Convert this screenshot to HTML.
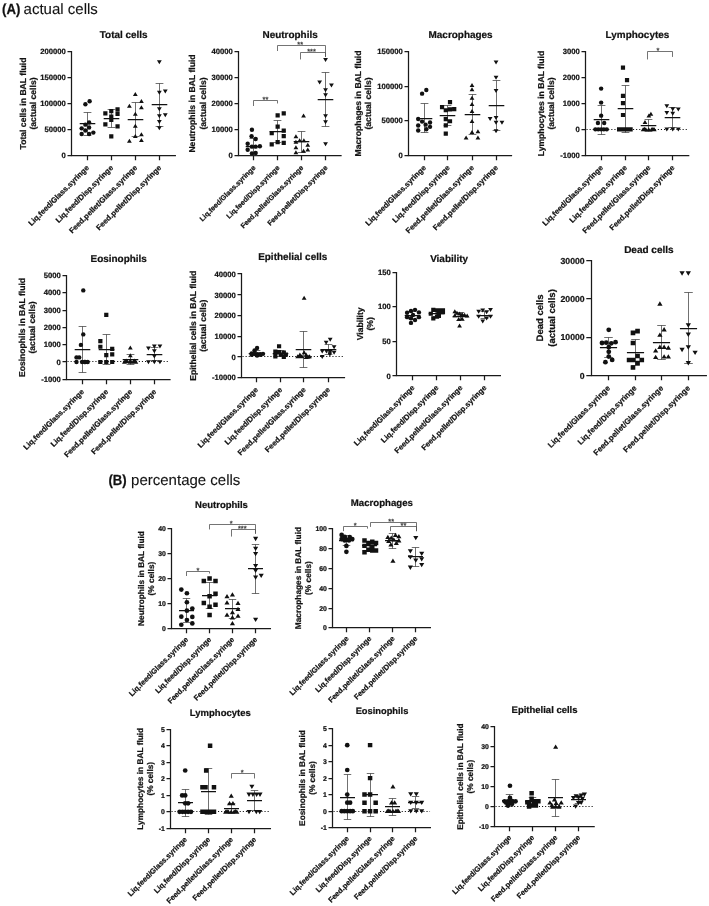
<!DOCTYPE html>
<html><head><meta charset="utf-8"><title>BAL fluid cells</title>
<style>
html,body{margin:0;padding:0;background:#fff}
svg{display:block;font-family:"Liberation Sans",sans-serif;fill:#111;text-rendering:geometricPrecision}
.ax{fill:none;stroke:#1a1a1a;stroke-width:1.25}
.dot{fill:none;stroke:#111;stroke-width:1.1;stroke-dasharray:1.1 2}
.eb{fill:none;stroke:#333;stroke-width:0.7}
.mn{fill:none;stroke:#111;stroke-width:1.25}
.br{fill:none;stroke:#505050;stroke-width:0.8}
.tk{font-weight:bold}
text{stroke:#111;stroke-width:0.22px;paint-order:stroke}
.tt{font-weight:bold}
.yl{font-weight:bold}
.xl{font-weight:bold}
.st{font-size:7.4px;fill:#333;stroke:#333;stroke-width:0.22px}
.hd{font-size:15px;stroke-width:0.1px}
.hd.b{font-weight:bold;font-size:14.6px;stroke-width:0.25px}
</style></head><body>
<svg width="709" height="906" viewBox="0 0 709 906">
<rect width="709" height="906" fill="#fff"/>
<text class="hd b" x="2" y="13.5" textLength="18.3" lengthAdjust="spacingAndGlyphs">(A)</text><text class="hd" x="23.6" y="13.5">actual cells</text>
<text class="hd b" x="108.4" y="485.3" textLength="18.2" lengthAdjust="spacingAndGlyphs">(B)</text><text class="hd" x="131.1" y="485.3">percentage cells</text>
<g>
<path class="ax" d="M71.5 50.9V155.5H175.94"/>
<path class="ax" d="M67.5 51.5H71.5M67.5 77.5H71.5M67.5 103.5H71.5M67.5 129.5H71.5M67.5 155.5H71.5M87.5 155.5V160.2M111.5 155.5V160.2M135.5 155.5V160.2M159.5 155.5V160.2"/>
<text class="tk" x="65.9" y="54.24" text-anchor="end" style="font-size:7.7px">200000</text>
<text class="tk" x="65.9" y="80.14" text-anchor="end" style="font-size:7.7px">150000</text>
<text class="tk" x="65.9" y="106.03" text-anchor="end" style="font-size:7.7px">100000</text>
<text class="tk" x="65.9" y="131.93" text-anchor="end" style="font-size:7.7px">50000</text>
<text class="tk" x="65.9" y="157.83" text-anchor="end" style="font-size:7.7px">0</text>
<text class="tt" x="123.72" y="37.81" text-anchor="middle" style="font-size:9.95px">Total cells</text>
<text class="yl" transform="translate(25.7 103.5) rotate(-90)" text-anchor="middle" style="font-size:8.6px"><tspan x="0" y="0">Total cells in BAL fluid</tspan><tspan x="0" y="10.4">(actual cells)</tspan></text>
<text class="xl" transform="translate(89.48 168.3) rotate(-45)" text-anchor="end" style="font-size:7.7px">Liq.feed/Glass.syringe</text>
<text class="xl" transform="translate(113.68 168.3) rotate(-45)" text-anchor="end" style="font-size:7.7px">Liq.feed/Disp.syringe</text>
<text class="xl" transform="translate(137.72 168.3) rotate(-45)" text-anchor="end" style="font-size:7.7px">Feed.pellet/Glass.syringe</text>
<text class="xl" transform="translate(161.75 168.3) rotate(-45)" text-anchor="end" style="font-size:7.7px">Feed.pellet/Disp.syringe</text>
<path class="eb" d="M87.5 112.5V135.5M83.6 112.5h7.8M83.6 135.5h7.8M111.5 109.5V127.5M107.6 109.5h7.8M107.6 127.5h7.8M135.5 102.5V136.5M131.6 102.5h7.8M131.6 136.5h7.8M159.5 83.5V126.5M155.6 83.5h7.8M155.6 126.5h7.8"/>
<path class="mn" d="M79.7 123.5h15.6M103.7 118.5h15.6M127.7 119.5h15.6M151.7 104.5h15.6"/>
<circle cx="85.39" cy="104.32" r="2.2"/>
<circle cx="89.62" cy="101.27" r="2.2"/>
<circle cx="89.11" cy="122.43" r="2.2"/>
<circle cx="85.39" cy="124.63" r="2.2"/>
<circle cx="81.66" cy="128.35" r="2.2"/>
<circle cx="89.11" cy="127.5" r="2.2"/>
<circle cx="85.39" cy="130.55" r="2.2"/>
<circle cx="81.66" cy="133.94" r="2.2"/>
<circle cx="89.11" cy="133.94" r="2.2"/>
<circle cx="93.34" cy="132.58" r="2.2"/>
<path d="M103.26 111.19h4.2v4.2h-4.2zM109.18 108.99h4.2v4.2h-4.2zM115.45 107.29h4.2v4.2h-4.2zM115.45 111.86h4.2v4.2h-4.2zM109.18 114.4h4.2v4.2h-4.2zM109.18 117.79h4.2v4.2h-4.2zM103.26 122.19h4.2v4.2h-4.2zM115.45 124.22h4.2v4.2h-4.2zM109.18 134.37h4.2v4.2h-4.2z"/>
<path d="M135.32 91.96l2.4 4h-4.8zM141.41 99.07l2.4 4h-4.8zM129.39 103.81l2.4 4h-4.8zM141.41 105.16l2.4 4h-4.8zM135.32 111.76l2.4 4h-4.8zM135.32 123.78l2.4 4h-4.8zM141.41 132.24l2.4 4h-4.8zM135.32 133.94l2.4 4h-4.8zM129.39 138.84l2.4 4h-4.8zM141.41 138l2.4 4h-4.8z"/>
<path d="M159.35 64.2l2.4 -4h-4.8zM159.35 94.67l2.4 -4h-4.8zM165.28 93.48l2.4 -4h-4.8zM159.35 111.26l2.4 -4h-4.8zM159.35 118.36l2.4 -4h-4.8zM165.28 117.18l2.4 -4h-4.8zM159.35 123.95l2.4 -4h-4.8zM159.35 130.21l2.4 -4h-4.8z"/>
</g>
<g>
<path class="ax" d="M238.5 50.9V155.5H341.63"/>
<path class="ax" d="M234.5 51.5H238.5M234.5 77.5H238.5M234.5 103.5H238.5M234.5 129.5H238.5M234.5 155.5H238.5M253.5 155.5V160.2M277.5 155.5V160.2M301.5 155.5V160.2M325.5 155.5V160.2"/>
<text class="tk" x="232.9" y="54.24" text-anchor="end" style="font-size:7.7px">40000</text>
<text class="tk" x="232.9" y="80.14" text-anchor="end" style="font-size:7.7px">30000</text>
<text class="tk" x="232.9" y="106.03" text-anchor="end" style="font-size:7.7px">20000</text>
<text class="tk" x="232.9" y="131.93" text-anchor="end" style="font-size:7.7px">10000</text>
<text class="tk" x="232.9" y="157.99" text-anchor="end" style="font-size:7.7px">0</text>
<text class="tt" x="290.08" y="37.81" text-anchor="middle" style="font-size:9.95px">Neutrophils</text>
<text class="yl" transform="translate(195.4 103.5) rotate(-90)" text-anchor="middle" style="font-size:8.6px"><tspan x="0" y="0">Neutrophils in BAL fluid</tspan><tspan x="0" y="10.4">(actual cells)</tspan></text>
<text class="xl" transform="translate(256.02 168.3) rotate(-45)" text-anchor="end" style="font-size:7.1px">Liq.feed/Glass.syringe</text>
<text class="xl" transform="translate(280.05 168.3) rotate(-45)" text-anchor="end" style="font-size:7.1px">Liq.feed/Disp.syringe</text>
<text class="xl" transform="translate(303.92 168.3) rotate(-45)" text-anchor="end" style="font-size:7.1px">Feed.pellet/Glass.syringe</text>
<text class="xl" transform="translate(327.95 168.3) rotate(-45)" text-anchor="end" style="font-size:7.1px">Feed.pellet/Disp.syringe</text>
<path class="eb" d="M253.5 138.5V155.5M249.6 138.5h7.8M249.6 155.5h7.8M277.5 120.5V142.5M273.6 120.5h7.8M273.6 142.5h7.8M301.5 131.5V152.5M297.6 131.5h7.8M297.6 152.5h7.8M325.5 72.5V126.5M321.6 72.5h7.8M321.6 126.5h7.8"/>
<path class="mn" d="M245.7 146.5h15.6M269.7 131.5h15.6M293.7 141.5h15.6M317.7 99.5h15.6"/>
<circle cx="251.93" cy="129.7" r="2.2"/>
<circle cx="251.59" cy="136.14" r="2.2"/>
<circle cx="255.65" cy="139.01" r="2.2"/>
<circle cx="247.69" cy="143.75" r="2.2"/>
<circle cx="251.93" cy="146.63" r="2.2"/>
<circle cx="255.65" cy="146.63" r="2.2"/>
<circle cx="259.88" cy="146.29" r="2.2"/>
<circle cx="247.69" cy="149.68" r="2.2"/>
<circle cx="251.93" cy="153.4" r="2.2"/>
<circle cx="255.65" cy="153.06" r="2.2"/>
<path d="M275.55 113.22h4.2v4.2h-4.2zM281.64 111.19h4.2v4.2h-4.2zM275.55 124.56h4.2v4.2h-4.2zM281.64 128.45h4.2v4.2h-4.2zM269.63 130.99h4.2v4.2h-4.2zM281.64 134.04h4.2v4.2h-4.2zM275.55 139.96h4.2v4.2h-4.2zM281.64 140.81h4.2v4.2h-4.2zM269.63 142.33h4.2v4.2h-4.2z"/>
<path d="M303.55 113.46l2.4 4h-4.8zM295.93 134.27l2.4 4h-4.8zM299.65 138.17l2.4 4h-4.8zM303.89 138.17l2.4 4h-4.8zM295.93 139.86l2.4 4h-4.8zM307.78 142.74l2.4 4h-4.8zM295.93 145.28l2.4 4h-4.8zM307.78 147.48l2.4 4h-4.8zM303.55 148.66l2.4 4h-4.8zM295.93 150.35l2.4 4h-4.8z"/>
<path d="M325.55 62l2.4 -4h-4.8zM319.63 84.51l2.4 -4h-4.8zM331.47 87.56l2.4 -4h-4.8zM325.55 92.13l2.4 -4h-4.8zM325.55 97.21l2.4 -4h-4.8zM325.55 118.36l2.4 -4h-4.8zM325.55 124.29l2.4 -4h-4.8zM325.55 146.29l2.4 -4h-4.8z"/>
<path class="br" d="M253.5 106.01V100.5H277.5V103.47"/>
<text class="st" x="265.47" y="101.6" text-anchor="middle">**</text>
<path class="br" d="M277.5 51V45.5H325.5V56.93"/>
<text class="st" x="300.16" y="46.6" text-anchor="middle">**</text>
<path class="br" d="M300.5 59.46V52.5H325.5V56.93"/>
<text class="st" x="311.5" y="53.6" text-anchor="middle">***</text>
</g>
<g>
<path class="ax" d="M408.5 50.9V155.5H512.12"/>
<path class="ax" d="M404.5 51.5H408.5M404.5 86.5H408.5M404.5 120.5H408.5M404.5 155.5H408.5M424.5 155.5V160.2M447.5 155.5V160.2M472.5 155.5V160.2M496.5 155.5V160.2"/>
<text class="tk" x="402.9" y="54.24" text-anchor="end" style="font-size:7.7px">150000</text>
<text class="tk" x="402.9" y="88.77" text-anchor="end" style="font-size:7.7px">100000</text>
<text class="tk" x="402.9" y="123.47" text-anchor="end" style="font-size:7.7px">50000</text>
<text class="tk" x="402.9" y="157.99" text-anchor="end" style="font-size:7.7px">0</text>
<text class="tt" x="460.58" y="37.81" text-anchor="middle" style="font-size:9.95px">Macrophages</text>
<text class="yl" transform="translate(361 103.5) rotate(-90)" text-anchor="middle" style="font-size:8.6px"><tspan x="0" y="0">Macrophages in BAL fluid</tspan><tspan x="0" y="10.4">(actual cells)</tspan></text>
<text class="xl" transform="translate(426.51 168.3) rotate(-45)" text-anchor="end" style="font-size:7.7px">Liq.feed/Glass.syringe</text>
<text class="xl" transform="translate(450.38 168.3) rotate(-45)" text-anchor="end" style="font-size:7.7px">Liq.feed/Disp.syringe</text>
<text class="xl" transform="translate(474.41 168.3) rotate(-45)" text-anchor="end" style="font-size:7.7px">Feed.pellet/Glass.syringe</text>
<text class="xl" transform="translate(498.44 168.3) rotate(-45)" text-anchor="end" style="font-size:7.7px">Feed.pellet/Disp.syringe</text>
<path class="eb" d="M424.5 103.5V132.5M420.6 103.5h7.8M420.6 132.5h7.8M447.5 105.5V125.5M443.6 105.5h7.8M443.6 125.5h7.8M472.5 94.5V134.5M468.6 94.5h7.8M468.6 134.5h7.8M496.5 80.5V130.5M492.6 80.5h7.8M492.6 130.5h7.8"/>
<path class="mn" d="M416.7 118.5h15.6M439.7 115.5h15.6M464.7 114.5h15.6M488.7 105.5h15.6"/>
<circle cx="422.08" cy="93.65" r="2.2"/>
<circle cx="426.31" cy="89.93" r="2.2"/>
<circle cx="418.19" cy="119.04" r="2.2"/>
<circle cx="422.08" cy="121.58" r="2.2"/>
<circle cx="425.63" cy="124.63" r="2.2"/>
<circle cx="430.04" cy="122.43" r="2.2"/>
<circle cx="418.19" cy="125.47" r="2.2"/>
<circle cx="430.04" cy="126.83" r="2.2"/>
<circle cx="426.31" cy="129.2" r="2.2"/>
<circle cx="418.19" cy="130.55" r="2.2"/>
<path d="M447.91 100.02h4.2v4.2h-4.2zM439.95 105.09h4.2v4.2h-4.2zM443.68 108.14h4.2v4.2h-4.2zM447.91 107.29h4.2v4.2h-4.2zM452.14 106.96h4.2v4.2h-4.2zM443.68 117.11h4.2v4.2h-4.2zM447.91 119.14h4.2v4.2h-4.2zM443.68 123.37h4.2v4.2h-4.2zM443.68 131.5h4.2v4.2h-4.2z"/>
<path d="M472.01 82.99l2.4 4h-4.8zM472.01 87.22l2.4 4h-4.8zM472.01 95.68l2.4 4h-4.8zM472.01 102.12l2.4 4h-4.8zM472.01 108.89l2.4 4h-4.8zM472.01 119.04l2.4 4h-4.8zM472.01 130.04l2.4 4h-4.8zM477.93 129.2l2.4 4h-4.8zM466.09 135.46l2.4 4h-4.8zM477.93 135.46l2.4 4h-4.8z"/>
<path d="M496.04 64.54l2.4 -4h-4.8zM496.04 79.77l2.4 -4h-4.8zM496.04 92.98l2.4 -4h-4.8zM490.12 120.9l2.4 -4h-4.8zM496.04 120.06l2.4 -4h-4.8zM496.04 124.8l2.4 -4h-4.8zM501.97 124.8l2.4 -4h-4.8zM496.04 133.26l2.4 -4h-4.8z"/>
</g>
<g>
<path class="ax" d="M585.5 50.9V155.5H689.32"/>
<path class="ax" d="M581.5 51.5H585.5M581.5 77.5H585.5M581.5 103.5H585.5M581.5 129.5H585.5M581.5 155.5H585.5M601.5 155.5V160.2M625.5 155.5V160.2M648.5 155.5V160.2M672.5 155.5V160.2"/>
<path class="dot" d="M586.5 129.5H688.32"/>
<text class="tk" x="579.9" y="54.24" text-anchor="end" style="font-size:7.7px">3000</text>
<text class="tk" x="579.9" y="80.31" text-anchor="end" style="font-size:7.7px">2000</text>
<text class="tk" x="579.9" y="106.2" text-anchor="end" style="font-size:7.7px">1000</text>
<text class="tk" x="579.9" y="132.1" text-anchor="end" style="font-size:7.7px">0</text>
<text class="tk" x="579.9" y="158.16" text-anchor="end" style="font-size:7.7px">-1000</text>
<text class="tt" x="637.44" y="37.81" text-anchor="middle" style="font-size:9.95px">Lymphocytes</text>
<text class="yl" transform="translate(544 103.5) rotate(-90)" text-anchor="middle" style="font-size:8.6px"><tspan x="0" y="0">Lymphocytes in BAL fluid</tspan><tspan x="0" y="10.4">(actual cells)</tspan></text>
<text class="xl" transform="translate(603.54 168.3) rotate(-45)" text-anchor="end" style="font-size:7.7px">Liq.feed/Glass.syringe</text>
<text class="xl" transform="translate(627.41 168.3) rotate(-45)" text-anchor="end" style="font-size:7.7px">Liq.feed/Disp.syringe</text>
<text class="xl" transform="translate(651.1 168.3) rotate(-45)" text-anchor="end" style="font-size:7.7px">Feed.pellet/Glass.syringe</text>
<text class="xl" transform="translate(675.14 168.3) rotate(-45)" text-anchor="end" style="font-size:7.7px">Feed.pellet/Disp.syringe</text>
<path class="eb" d="M601.5 105.5V134.5M597.6 105.5h7.8M597.6 134.5h7.8M625.5 85.5V132.5M621.6 85.5h7.8M621.6 132.5h7.8M648.5 119.5V131.5M644.6 119.5h7.8M644.6 131.5h7.8M672.5 107.5V127.5M668.6 107.5h7.8M668.6 127.5h7.8"/>
<path class="mn" d="M593.7 119.5h15.6M617.7 108.5h15.6M640.7 125.5h15.6M664.7 117.5h15.6"/>
<circle cx="601.14" cy="88.58" r="2.2"/>
<circle cx="601.14" cy="102.62" r="2.2"/>
<circle cx="601.14" cy="115.66" r="2.2"/>
<circle cx="597.93" cy="122.93" r="2.2"/>
<circle cx="604.19" cy="122.93" r="2.2"/>
<circle cx="595.39" cy="129.37" r="2.2"/>
<circle cx="598.27" cy="129.37" r="2.2"/>
<circle cx="601.14" cy="129.37" r="2.2"/>
<circle cx="603.85" cy="129.37" r="2.2"/>
<circle cx="606.73" cy="129.37" r="2.2"/>
<path d="M620.88 65.49h4.2v4.2h-4.2zM624.94 78.01h4.2v4.2h-4.2zM620.88 93.75h4.2v4.2h-4.2zM620.88 101.03h4.2v4.2h-4.2zM620.88 112.88h4.2v4.2h-4.2zM616.98 127.27h4.2v4.2h-4.2zM619.86 127.27h4.2v4.2h-4.2zM622.91 127.27h4.2v4.2h-4.2zM625.78 127.27h4.2v4.2h-4.2zM628.49 127.27h4.2v4.2h-4.2z"/>
<path d="M650.9 111.76l2.4 4h-4.8zM644.98 119.89l2.4 4h-4.8zM648.87 113.46l2.4 4h-4.8zM643.12 127.17l2.4 4h-4.8zM645.83 127.17l2.4 4h-4.8zM648.7 127.17l2.4 4h-4.8zM651.58 127.17l2.4 4h-4.8zM654.29 127.17l2.4 4h-4.8zM644.47 126.83l2.4 4h-4.8zM652.93 126.83l2.4 4h-4.8z"/>
<path d="M666.81 108.21l2.4 -4h-4.8zM672.74 111.26l2.4 -4h-4.8zM678.32 111.59l2.4 -4h-4.8zM666.81 114.98l2.4 -4h-4.8zM672.74 115.82l2.4 -4h-4.8zM666.81 131.4l2.4 -4h-4.8zM672.74 131.4l2.4 -4h-4.8zM678.32 131.4l2.4 -4h-4.8z"/>
<path class="br" d="M647.5 59.46V51.5H672.5V56.93"/>
<text class="st" x="658.01" y="52.6" text-anchor="middle">*</text>
</g>
<g>
<path class="ax" d="M66.5 274.9V379.5H170.6"/>
<path class="ax" d="M62.5 275.5H66.5M62.5 292.5H66.5M62.5 310.5H66.5M62.5 327.5H66.5M62.5 344.5H66.5M62.5 361.5H66.5M62.5 379.5H66.5M82.5 379.5V384.2M106.5 379.5V384.2M130.5 379.5V384.2M154.5 379.5V384.2"/>
<path class="dot" d="M67.5 361.5H169.6"/>
<text class="tk" x="60.9" y="278.23" text-anchor="end" style="font-size:7.7px">5000</text>
<text class="tk" x="60.9" y="295.49" text-anchor="end" style="font-size:7.7px">4000</text>
<text class="tk" x="60.9" y="312.92" text-anchor="end" style="font-size:7.7px">3000</text>
<text class="tk" x="60.9" y="330.19" text-anchor="end" style="font-size:7.7px">2000</text>
<text class="tk" x="60.9" y="347.45" text-anchor="end" style="font-size:7.7px">1000</text>
<text class="tk" x="60.9" y="364.72" text-anchor="end" style="font-size:7.7px">0</text>
<text class="tk" x="60.9" y="381.98" text-anchor="end" style="font-size:7.7px">-1000</text>
<text class="tt" x="118.72" y="262.19" text-anchor="middle" style="font-size:9.95px">Eosinophils</text>
<text class="yl" transform="translate(25 327.5) rotate(-90)" text-anchor="middle" style="font-size:8.6px"><tspan x="0" y="0">Eosinophils in BAL fluid</tspan><tspan x="0" y="10.4">(actual cells)</tspan></text>
<text class="xl" transform="translate(84.48 392.3) rotate(-45)" text-anchor="end" style="font-size:7.7px">Liq.feed/Glass.syringe</text>
<text class="xl" transform="translate(108.68 392.3) rotate(-45)" text-anchor="end" style="font-size:7.7px">Liq.feed/Disp.syringe</text>
<text class="xl" transform="translate(132.72 392.3) rotate(-45)" text-anchor="end" style="font-size:7.7px">Feed.pellet/Glass.syringe</text>
<text class="xl" transform="translate(156.75 392.3) rotate(-45)" text-anchor="end" style="font-size:7.7px">Feed.pellet/Disp.syringe</text>
<path class="eb" d="M82.5 326.5V372.5M78.6 326.5h7.8M78.6 372.5h7.8M106.5 334.5V364.5M102.6 334.5h7.8M102.6 364.5h7.8M130.5 354.5V364.5M126.6 354.5h7.8M126.6 364.5h7.8M154.5 347.5V360.5M150.6 347.5h7.8M150.6 360.5h7.8"/>
<path class="mn" d="M74.7 349.5h15.6M98.7 349.5h15.6M122.7 359.5h15.6M146.7 354.5h15.6"/>
<circle cx="83.27" cy="290.39" r="2.2"/>
<circle cx="83.27" cy="334.39" r="2.2"/>
<circle cx="80.9" cy="344.89" r="2.2"/>
<circle cx="76.5" cy="357.41" r="2.2"/>
<circle cx="79.2" cy="357.41" r="2.2"/>
<circle cx="76.5" cy="361.98" r="2.2"/>
<circle cx="82.08" cy="361.98" r="2.2"/>
<circle cx="84.96" cy="361.98" r="2.2"/>
<circle cx="87.67" cy="361.98" r="2.2"/>
<circle cx="84.96" cy="361.98" r="2.2"/>
<path d="M104.18 312.83h4.2v4.2h-4.2zM98.26 339.06h4.2v4.2h-4.2zM98.26 344.65h4.2v4.2h-4.2zM110.11 346.68h4.2v4.2h-4.2zM104.18 352.94h4.2v4.2h-4.2zM110.11 352.27h4.2v4.2h-4.2zM98.26 359.88h4.2v4.2h-4.2zM104.18 359.88h4.2v4.2h-4.2zM110.11 359.88h4.2v4.2h-4.2z"/>
<path d="M130.32 345.4l2.4 4h-4.8zM130.32 353.35l2.4 4h-4.8zM124.39 359.78l2.4 4h-4.8zM127.27 359.27l2.4 4h-4.8zM130.32 359.78l2.4 4h-4.8zM133.19 359.78l2.4 4h-4.8zM135.9 359.78l2.4 4h-4.8zM126.09 358.6l2.4 4h-4.8zM134.55 358.6l2.4 4h-4.8zM130.32 358.6l2.4 4h-4.8z"/>
<path d="M154.35 348.44l2.4 -4h-4.8zM159.94 348.44l2.4 -4h-4.8zM148.43 350.47l2.4 -4h-4.8zM154.35 353.18l2.4 -4h-4.8zM154.35 358.6l2.4 -4h-4.8zM148.43 364.18l2.4 -4h-4.8zM154.35 364.18l2.4 -4h-4.8zM159.94 364.18l2.4 -4h-4.8z"/>
</g>
<g>
<path class="ax" d="M241.5 272.9V377.5H345.09"/>
<path class="ax" d="M237.5 273.5H241.5M237.5 294.5H241.5M237.5 315.5H241.5M237.5 336.5H241.5M237.5 356.5H241.5M237.5 377.5H241.5M256.5 377.5V382.2M280.5 377.5V382.2M303.5 377.5V382.2M328.5 377.5V382.2"/>
<path class="dot" d="M242.5 356.5H344.09"/>
<text class="tk" x="235.9" y="276.7" text-anchor="end" style="font-size:7.7px">40000</text>
<text class="tk" x="235.9" y="297.52" text-anchor="end" style="font-size:7.7px">30000</text>
<text class="tk" x="235.9" y="318.17" text-anchor="end" style="font-size:7.7px">20000</text>
<text class="tk" x="235.9" y="338.82" text-anchor="end" style="font-size:7.7px">10000</text>
<text class="tk" x="235.9" y="359.64" text-anchor="end" style="font-size:7.7px">0</text>
<text class="tk" x="235.9" y="379.95" text-anchor="end" style="font-size:7.7px">-10000</text>
<text class="tt" x="292.7" y="260.27" text-anchor="middle" style="font-size:9.95px">Epithelial cells</text>
<text class="yl" transform="translate(195.7 325.74) rotate(-90)" text-anchor="middle" style="font-size:8.6px"><tspan x="0" y="0">Epithelial cells in BAL fluid</tspan><tspan x="0" y="10.4">(actual cells)</tspan></text>
<text class="xl" transform="translate(258.63 390.3) rotate(-45)" text-anchor="end" style="font-size:7.7px">Liq.feed/Glass.syringe</text>
<text class="xl" transform="translate(282.67 390.3) rotate(-45)" text-anchor="end" style="font-size:7.7px">Liq.feed/Disp.syringe</text>
<text class="xl" transform="translate(306.36 390.3) rotate(-45)" text-anchor="end" style="font-size:7.7px">Feed.pellet/Glass.syringe</text>
<text class="xl" transform="translate(330.57 390.3) rotate(-45)" text-anchor="end" style="font-size:7.7px">Feed.pellet/Disp.syringe</text>
<path class="eb" d="M256.5 350.5V355.5M252.6 350.5h7.8M252.6 355.5h7.8M280.5 350.5V356.5M276.6 350.5h7.8M276.6 356.5h7.8M303.5 331.5V367.5M299.6 331.5h7.8M299.6 367.5h7.8M328.5 344.5V354.5M324.6 344.5h7.8M324.6 354.5h7.8"/>
<path class="mn" d="M248.7 353.5h15.6M272.7 353.5h15.6M295.7 349.5h15.6M320.7 349.5h15.6"/>
<circle cx="257.08" cy="347.93" r="2.2"/>
<circle cx="254.54" cy="350.47" r="2.2"/>
<circle cx="251.66" cy="353.35" r="2.2"/>
<circle cx="254.54" cy="353.86" r="2.2"/>
<circle cx="257.42" cy="354.2" r="2.2"/>
<circle cx="260.13" cy="354.2" r="2.2"/>
<circle cx="263" cy="353.86" r="2.2"/>
<circle cx="251.66" cy="354.7" r="2.2"/>
<circle cx="257.08" cy="355.55" r="2.2"/>
<circle cx="260.47" cy="354.7" r="2.2"/>
<path d="M276.98 344.14h4.2v4.2h-4.2zM273.26 349.56h4.2v4.2h-4.2zM276.98 350.07h4.2v4.2h-4.2zM281.72 350.4h4.2v4.2h-4.2zM273.26 352.94h4.2v4.2h-4.2zM278.68 352.6h4.2v4.2h-4.2zM283.75 352.6h4.2v4.2h-4.2zM273.26 354.3h4.2v4.2h-4.2zM281.72 354.8h4.2v4.2h-4.2z"/>
<path d="M304.13 295.8l2.4 4h-4.8zM304.13 350.3l2.4 4h-4.8zM299.9 352.5l2.4 4h-4.8zM306.16 352.5l2.4 4h-4.8zM297.7 354.2l2.4 4h-4.8zM301.93 354.2l2.4 4h-4.8zM306.16 355.04l2.4 4h-4.8zM309.55 354.2l2.4 4h-4.8zM308.19 354.7l2.4 4h-4.8zM299.9 353.86l2.4 4h-4.8z"/>
<path d="M330.2 341.67l2.4 -4h-4.8zM326.14 344.72l2.4 -4h-4.8zM334.09 349.29l2.4 -4h-4.8zM322.24 353.52l2.4 -4h-4.8zM326.47 353.52l2.4 -4h-4.8zM330.2 354.03l2.4 -4h-4.8zM334.09 354.87l2.4 -4h-4.8zM322.24 359.1l2.4 -4h-4.8zM329.86 356.4l2.4 -4h-4.8z"/>
</g>
<g>
<path class="ax" d="M396.5 271.9V375.5H501.02"/>
<path class="ax" d="M392.5 272.5H396.5M392.5 306.5H396.5M392.5 341.5H396.5M392.5 375.5H396.5M412.5 375.5V380.2M436.5 375.5V380.2M460.5 375.5V380.2M484.5 375.5V380.2"/>
<text class="tk" x="390.9" y="274.84" text-anchor="end" style="font-size:7.7px">150</text>
<text class="tk" x="390.9" y="309.37" text-anchor="end" style="font-size:7.7px">100</text>
<text class="tk" x="390.9" y="343.9" text-anchor="end" style="font-size:7.7px">50</text>
<text class="tk" x="390.9" y="378.59" text-anchor="end" style="font-size:7.7px">0</text>
<text class="tt" x="449.13" y="261.51" text-anchor="middle" style="font-size:9.95px">Viability</text>
<text class="yl" transform="translate(362.5 323.8) rotate(-90)" text-anchor="middle" style="font-size:8.6px"><tspan x="0" y="0">Viability</tspan><tspan x="0" y="10.4">(%)</tspan></text>
<text class="xl" transform="translate(415.07 388.3) rotate(-45)" text-anchor="end" style="font-size:7.7px">Liq.feed/Glass.syringe</text>
<text class="xl" transform="translate(439.1 388.3) rotate(-45)" text-anchor="end" style="font-size:7.7px">Liq.feed/Disp.syringe</text>
<text class="xl" transform="translate(463.13 388.3) rotate(-45)" text-anchor="end" style="font-size:7.7px">Feed.pellet/Glass.syringe</text>
<text class="xl" transform="translate(487 388.3) rotate(-45)" text-anchor="end" style="font-size:7.7px">Feed.pellet/Disp.syringe</text>
<path class="eb" d="M412.5 311.5V319.5M408.6 311.5h7.8M408.6 319.5h7.8M436.5 309.5V316.5M432.6 309.5h7.8M432.6 316.5h7.8M460.5 312.5V320.5M456.6 312.5h7.8M456.6 320.5h7.8M484.5 311.5V318.5M480.6 311.5h7.8M480.6 318.5h7.8"/>
<path class="mn" d="M404.7 315.5h15.6M428.7 313.5h15.6M452.7 316.5h15.6M476.7 315.5h15.6"/>
<circle cx="415.04" cy="309.85" r="2.2"/>
<circle cx="410.97" cy="311.04" r="2.2"/>
<circle cx="407.08" cy="312.73" r="2.2"/>
<circle cx="418.93" cy="312.39" r="2.2"/>
<circle cx="413" cy="314.93" r="2.2"/>
<circle cx="407.08" cy="317.13" r="2.2"/>
<circle cx="418.93" cy="317.13" r="2.2"/>
<circle cx="410.97" cy="318.31" r="2.2"/>
<circle cx="415.04" cy="320.01" r="2.2"/>
<circle cx="410.97" cy="322.88" r="2.2"/>
<path d="M431.21 307.75h4.2v4.2h-4.2zM434.94 308.26h4.2v4.2h-4.2zM438.49 308.26h4.2v4.2h-4.2zM440.86 308.26h4.2v4.2h-4.2zM428.68 311.64h4.2v4.2h-4.2zM436.8 310.29h4.2v4.2h-4.2zM440.86 309.95h4.2v4.2h-4.2zM436.8 313.68h4.2v4.2h-4.2zM431.21 316.21h4.2v4.2h-4.2zM434.94 314.52h4.2v4.2h-4.2z"/>
<path d="M454.81 309.34l2.4 4h-4.8zM457.01 310.7l2.4 4h-4.8zM459.55 311.54l2.4 4h-4.8zM462.09 311.88l2.4 4h-4.8zM454.81 313.24l2.4 4h-4.8zM464.63 312.73l2.4 4h-4.8zM467.17 313.58l2.4 4h-4.8zM458.7 316.96l2.4 4h-4.8zM462.09 316.62l2.4 4h-4.8zM459.55 323.39l2.4 4h-4.8z"/>
<path d="M482.74 312.56l2.4 -4h-4.8zM490.52 312.05l2.4 -4h-4.8zM478.67 313.74l2.4 -4h-4.8zM486.63 314.25l2.4 -4h-4.8zM478.67 318.82l2.4 -4h-4.8zM490.52 318.82l2.4 -4h-4.8zM486.63 320.51l2.4 -4h-4.8zM482.74 323.39l2.4 -4h-4.8z"/>
</g>
<g>
<path class="ax" d="M591.5 259.9V375.5H706.94"/>
<path class="ax" d="M586.3 260.5H591.5M586.3 298.5H591.5M586.3 337.5H591.5M586.3 375.5H591.5M608.5 375.5V380.2M635.5 375.5V380.2M661.5 375.5V380.2M688.5 375.5V380.2"/>
<text class="tk" x="584.7" y="263.5" text-anchor="end" style="font-size:8.7px">30000</text>
<text class="tk" x="584.7" y="301.92" text-anchor="end" style="font-size:8.7px">20000</text>
<text class="tk" x="584.7" y="340.35" text-anchor="end" style="font-size:8.7px">10000</text>
<text class="tk" x="584.7" y="378.77" text-anchor="end" style="font-size:8.7px">0</text>
<text class="tt" x="648.88" y="252.72" text-anchor="middle" style="font-size:10px">Dead cells</text>
<text class="yl" transform="translate(543.4 317.96) rotate(-90)" text-anchor="middle" style="font-size:9.5px"><tspan x="0" y="0">Dead cells</tspan><tspan x="0" y="11.6">(actual cells)</tspan></text>
<text class="xl" transform="translate(610.63 388.7) rotate(-45)" text-anchor="end" style="font-size:7.9px">Liq.feed/Glass.syringe</text>
<text class="xl" transform="translate(637.21 388.7) rotate(-45)" text-anchor="end" style="font-size:7.9px">Liq.feed/Disp.syringe</text>
<text class="xl" transform="translate(663.78 388.7) rotate(-45)" text-anchor="end" style="font-size:7.9px">Feed.pellet/Glass.syringe</text>
<text class="xl" transform="translate(690.52 388.7) rotate(-45)" text-anchor="end" style="font-size:7.9px">Feed.pellet/Disp.syringe</text>
<path class="eb" d="M608.5 337.5V357.5M604.21 337.5h8.58M604.21 357.5h8.58M635.5 339.5V365.5M631.21 339.5h8.58M631.21 365.5h8.58M661.5 325.5V359.5M657.21 325.5h8.58M657.21 359.5h8.58M688.5 292.5V363.5M684.21 292.5h8.58M684.21 363.5h8.58"/>
<path class="mn" d="M599.92 347.5h17.16M626.92 352.5h17.16M652.92 342.5h17.16M679.92 328.5h17.16"/>
<circle cx="608.77" cy="329.81" r="2.42"/>
<circle cx="602" cy="343.01" r="2.42"/>
<circle cx="606.23" cy="342.67" r="2.42"/>
<circle cx="611.31" cy="343.35" r="2.42"/>
<circle cx="615.54" cy="342.17" r="2.42"/>
<circle cx="608.77" cy="351.81" r="2.42"/>
<circle cx="608.77" cy="356.55" r="2.42"/>
<circle cx="612.16" cy="359.94" r="2.42"/>
<circle cx="605.39" cy="362.14" r="2.42"/>
<circle cx="608.77" cy="347.24" r="2.42"/>
<path d="M630.67 330.55h4.62v4.62h-4.62zM635.24 328.85h4.62v4.62h-4.62zM630.67 340.7h4.62v4.62h-4.62zM635.24 353.73h4.62v4.62h-4.62zM626.77 357.63h4.62v4.62h-4.62zM630.67 357.63h4.62v4.62h-4.62zM639.47 357.63h4.62v4.62h-4.62zM635.24 360.67h4.62v4.62h-4.62zM630.67 365.24h4.62v4.62h-4.62z"/>
<path d="M659.89 301.32l2.64 4.4h-5.28zM664.12 327.05l2.64 4.4h-5.28zM659.89 332.47l2.64 4.4h-5.28zM659.89 344.48l2.64 4.4h-5.28zM664.12 344.48l2.64 4.4h-5.28zM668.35 345.33l2.64 4.4h-5.28zM655.66 348.21l2.64 4.4h-5.28zM655.66 354.64l2.64 4.4h-5.28zM664.12 354.13l2.64 4.4h-5.28zM668.35 354.13l2.64 4.4h-5.28z"/>
<path d="M682.06 275.7l2.64 -4.4h-5.28zM688.32 275.7l2.64 -4.4h-5.28zM688.32 327.66l2.64 -4.4h-5.28zM688.32 336.97l2.64 -4.4h-5.28zM688.32 349.66l2.64 -4.4h-5.28zM682.06 352.2l2.64 -4.4h-5.28zM695.09 355.08l2.64 -4.4h-5.28zM688.32 365.4l2.64 -4.4h-5.28z"/>
</g>
<g>
<path class="ax" d="M171.5 527.9V628.5H271.02"/>
<path class="ax" d="M167.5 528.5H171.5M167.5 553.5H171.5M167.5 578.5H171.5M167.5 603.5H171.5M167.5 628.5H171.5M186.5 628.5V633.2M209.5 628.5V633.2M232.5 628.5V633.2M255.5 628.5V633.2"/>
<text class="tk" x="165.9" y="531.07" text-anchor="end" style="font-size:6.9px">40</text>
<text class="tk" x="165.9" y="555.95" text-anchor="end" style="font-size:6.9px">30</text>
<text class="tk" x="165.9" y="580.83" text-anchor="end" style="font-size:6.9px">20</text>
<text class="tk" x="165.9" y="605.71" text-anchor="end" style="font-size:6.9px">10</text>
<text class="tk" x="165.9" y="630.59" text-anchor="end" style="font-size:6.9px">0</text>
<text class="tt" x="221.5" y="507.62" text-anchor="middle" style="font-size:9.5px">Neutrophils</text>
<text class="yl" transform="translate(143.79 578.56) rotate(-90)" text-anchor="middle" style="font-size:8.3px"><tspan x="0" y="0">Neutrophils in BAL fluid</tspan><tspan x="0" y="9.9">(% cells)</tspan></text>
<text class="xl" transform="translate(188.59 640.1) rotate(-45)" text-anchor="end" style="font-size:7.5px">Liq.feed/Glass.syringe</text>
<text class="xl" transform="translate(211.78 640.1) rotate(-45)" text-anchor="end" style="font-size:7.5px">Liq.feed/Disp.syringe</text>
<text class="xl" transform="translate(234.63 640.1) rotate(-45)" text-anchor="end" style="font-size:7.5px">Feed.pellet/Glass.syringe</text>
<text class="xl" transform="translate(257.81 640.1) rotate(-45)" text-anchor="end" style="font-size:7.5px">Feed.pellet/Disp.syringe</text>
<path class="eb" d="M186.5 598.5V622.5M182.76 598.5h7.49M182.76 622.5h7.49M209.5 582.5V608.5M205.76 582.5h7.49M205.76 608.5h7.49M232.5 599.5V618.5M228.76 599.5h7.49M228.76 618.5h7.49M255.5 544.5V593.5M251.76 544.5h7.49M251.76 593.5h7.49"/>
<path class="mn" d="M179.01 610.5h14.98M202.01 595.5h14.98M225.01 608.5h14.98M248.01 568.5h14.98"/>
<circle cx="181.31" cy="589.55" r="2.35"/>
<circle cx="186.9" cy="593.27" r="2.35"/>
<circle cx="186.9" cy="602.24" r="2.35"/>
<circle cx="192.31" cy="608.5" r="2.35"/>
<circle cx="186.9" cy="610.71" r="2.35"/>
<circle cx="192.31" cy="616.97" r="2.35"/>
<circle cx="181.31" cy="616.63" r="2.35"/>
<circle cx="186.9" cy="620.01" r="2.35"/>
<circle cx="192.31" cy="623.4" r="2.35"/>
<circle cx="181.31" cy="624.75" r="2.35"/>
<path d="M207.33 576.3h4.49v4.49h-4.49zM201.58 578.84h4.49v4.49h-4.49zM213.25 578.84h4.49v4.49h-4.49zM213.25 591.53h4.49v4.49h-4.49zM207.33 594.07h4.49v4.49h-4.49zM201.58 600.84h4.49v4.49h-4.49zM213.25 602.53h4.49v4.49h-4.49zM207.33 604.57h4.49v4.49h-4.49zM207.33 612.69h4.49v4.49h-4.49z"/>
<path d="M227.01 593.96l2.57 4.28h-5.14zM232.43 592.27l2.57 4.28h-5.14zM227.01 600.23l2.57 4.28h-5.14zM238.01 600.73l2.57 4.28h-5.14zM238.01 606.66l2.57 4.28h-5.14zM232.43 610.04l2.57 4.28h-5.14zM227.01 612.58l2.57 4.28h-5.14zM238.01 613.43l2.57 4.28h-5.14zM232.43 615.12l2.57 4.28h-5.14zM232.43 621.05l2.57 4.28h-5.14z"/>
<path d="M255.61 541.13l2.57 -4.28h-5.14zM255.61 550.94l2.57 -4.28h-5.14zM255.61 556.36l2.57 -4.28h-5.14zM255.61 568.21l2.57 -4.28h-5.14zM255.61 572.95l2.57 -4.28h-5.14zM255.61 579.72l2.57 -4.28h-5.14zM261.2 578.02l2.57 -4.28h-5.14zM255.61 622.03l2.57 -4.28h-5.14z"/>
<path class="br" d="M186.5 576.01V571.5H209.5V573.47"/>
<text class="st" x="197.9" y="572.6" text-anchor="middle">*</text>
<path class="br" d="M209.5 529.46V524.5H255.5V533.7"/>
<text class="st" x="231.24" y="525.6" text-anchor="middle">*</text>
<path class="br" d="M231.5 536.57V529.5H255.5V533.7"/>
<text class="st" x="242.24" y="530.6" text-anchor="middle">***</text>
</g>
<g>
<path class="ax" d="M332.5 527.9V627.5H431.02"/>
<path class="ax" d="M328.5 528.5H332.5M328.5 548.5H332.5M328.5 568.5H332.5M328.5 588.5H332.5M328.5 608.5H332.5M328.5 627.5H332.5M346.5 627.5V632.2M369.5 627.5V632.2M392.5 627.5V632.2M415.5 627.5V632.2"/>
<text class="tk" x="326.9" y="531.07" text-anchor="end" style="font-size:6.9px">100</text>
<text class="tk" x="326.9" y="551.04" text-anchor="end" style="font-size:6.9px">80</text>
<text class="tk" x="326.9" y="570.84" text-anchor="end" style="font-size:6.9px">60</text>
<text class="tk" x="326.9" y="590.64" text-anchor="end" style="font-size:6.9px">40</text>
<text class="tk" x="326.9" y="610.62" text-anchor="end" style="font-size:6.9px">20</text>
<text class="tk" x="326.9" y="630.42" text-anchor="end" style="font-size:6.9px">0</text>
<text class="tt" x="381.84" y="506.32" text-anchor="middle" style="font-size:9.65px">Macrophages</text>
<text class="yl" transform="translate(300.94 578.06) rotate(-90)" text-anchor="middle" style="font-size:8.3px"><tspan x="0" y="0">Macrophages in BAL fluid</tspan><tspan x="0" y="9.9">(% cells)</tspan></text>
<text class="xl" transform="translate(349.1 639.1) rotate(-45)" text-anchor="end" style="font-size:7.5px">Liq.feed/Glass.syringe</text>
<text class="xl" transform="translate(371.95 639.1) rotate(-45)" text-anchor="end" style="font-size:7.5px">Liq.feed/Disp.syringe</text>
<text class="xl" transform="translate(395.13 639.1) rotate(-45)" text-anchor="end" style="font-size:7.5px">Feed.pellet/Glass.syringe</text>
<text class="xl" transform="translate(417.98 639.1) rotate(-45)" text-anchor="end" style="font-size:7.5px">Feed.pellet/Disp.syringe</text>
<path class="eb" d="M346.5 535.5V545.5M342.76 535.5h7.49M342.76 545.5h7.49M369.5 541.5V550.5M365.76 541.5h7.49M365.76 550.5h7.49M392.5 533.5V548.5M388.76 533.5h7.49M388.76 548.5h7.49M415.5 547.5V566.5M411.76 547.5h7.49M411.76 566.5h7.49"/>
<path class="mn" d="M339.01 540.5h14.98M362.01 545.5h14.98M385.01 540.5h14.98M408.01 556.5h14.98"/>
<circle cx="341.65" cy="534.88" r="2.35"/>
<circle cx="344.7" cy="536.74" r="2.35"/>
<circle cx="349.77" cy="537.08" r="2.35"/>
<circle cx="341.65" cy="539.11" r="2.35"/>
<circle cx="346.39" cy="539.62" r="2.35"/>
<circle cx="352.31" cy="539.11" r="2.35"/>
<circle cx="344.7" cy="540.47" r="2.35"/>
<circle cx="348.93" cy="540.47" r="2.35"/>
<circle cx="346.39" cy="545.88" r="2.35"/>
<circle cx="346.39" cy="551.81" r="2.35"/>
<path d="M362.25 538.22h4.49v4.49h-4.49zM370.04 539.4h4.49v4.49h-4.49zM366.15 540.76h4.49v4.49h-4.49zM373.76 540.76h4.49v4.49h-4.49zM362.25 543.63h4.49v4.49h-4.49zM370.04 544.14h4.49v4.49h-4.49zM366.15 547.53h4.49v4.49h-4.49zM370.04 548.37h4.49v4.49h-4.49zM373.76 548.37h4.49v4.49h-4.49zM362.25 550.07h4.49v4.49h-4.49z"/>
<path d="M395.47 532.7l2.57 4.28h-5.14zM387.86 534.73l2.57 4.28h-5.14zM391.24 535.57l2.57 4.28h-5.14zM398.86 533.88l2.57 4.28h-5.14zM393.78 537.27l2.57 4.28h-5.14zM398.86 538.11l2.57 4.28h-5.14zM388.7 538.62l2.57 4.28h-5.14zM396.32 540.65l2.57 4.28h-5.14zM390.9 542.34l2.57 4.28h-5.14zM392.93 558.42l2.57 4.28h-5.14z"/>
<path d="M415.78 540.28l2.57 -4.28h-5.14zM410.37 553.48l2.57 -4.28h-5.14zM421.71 556.02l2.57 -4.28h-5.14zM410.37 559.41l2.57 -4.28h-5.14zM421.71 561.44l2.57 -4.28h-5.14zM415.78 562.79l2.57 -4.28h-5.14zM421.71 567.36l2.57 -4.28h-5.14zM410.37 569.9l2.57 -4.28h-5.14z"/>
<path class="br" d="M343.5 531.16V526.5H367.5V528.62"/>
<text class="st" x="355.19" y="527.6" text-anchor="middle">*</text>
<path class="br" d="M370.5 526.93V522.5H416.5V531.16"/>
<text class="st" x="391.24" y="523.6" text-anchor="middle">**</text>
<path class="br" d="M390.5 531.16V526.5H416.5V531.16"/>
<text class="st" x="403.43" y="527.6" text-anchor="middle">**</text>
</g>
<g>
<path class="ax" d="M170.5 728.9V828.5H271.02"/>
<path class="ax" d="M166.5 729.5H170.5M166.5 745.5H170.5M166.5 762.5H170.5M166.5 778.5H170.5M166.5 795.5H170.5M166.5 811.5H170.5M166.5 828.5H170.5M185.5 828.5V833.2M208.5 828.5V833.2M231.5 828.5V833.2M254.5 828.5V833.2"/>
<path class="dot" d="M171.5 811.5H270.02"/>
<text class="tk" x="164.9" y="731.5" text-anchor="end" style="font-size:6.9px">5</text>
<text class="tk" x="164.9" y="748.08" text-anchor="end" style="font-size:6.9px">4</text>
<text class="tk" x="164.9" y="764.67" text-anchor="end" style="font-size:6.9px">3</text>
<text class="tk" x="164.9" y="781.09" text-anchor="end" style="font-size:6.9px">2</text>
<text class="tk" x="164.9" y="797.68" text-anchor="end" style="font-size:6.9px">1</text>
<text class="tk" x="164.9" y="814.26" text-anchor="end" style="font-size:6.9px">0</text>
<text class="tk" x="164.9" y="830.51" text-anchor="end" style="font-size:6.9px">-1</text>
<text class="tt" x="220.32" y="716.05" text-anchor="middle" style="font-size:9.5px">Lymphocytes</text>
<text class="yl" transform="translate(142.79 778.77) rotate(-90)" text-anchor="middle" style="font-size:8.3px"><tspan x="0" y="0">Lymphocytes in BAL fluid</tspan><tspan x="0" y="9.9">(% cells)</tspan></text>
<text class="xl" transform="translate(187.4 840.1) rotate(-45)" text-anchor="end" style="font-size:7.5px">Liq.feed/Glass.syringe</text>
<text class="xl" transform="translate(210.59 840.1) rotate(-45)" text-anchor="end" style="font-size:7.5px">Liq.feed/Disp.syringe</text>
<text class="xl" transform="translate(233.44 840.1) rotate(-45)" text-anchor="end" style="font-size:7.5px">Feed.pellet/Glass.syringe</text>
<text class="xl" transform="translate(256.63 840.1) rotate(-45)" text-anchor="end" style="font-size:7.5px">Feed.pellet/Disp.syringe</text>
<path class="eb" d="M185.5 789.5V816.5M181.76 789.5h7.49M181.76 816.5h7.49M208.5 768.5V814.5M204.76 768.5h7.49M204.76 814.5h7.49M231.5 803.5V813.5M227.76 803.5h7.49M227.76 813.5h7.49M254.5 790.5V810.5M250.76 790.5h7.49M250.76 810.5h7.49"/>
<path class="mn" d="M178.01 802.5h14.98M201.01 791.5h14.98M224.01 808.5h14.98M247.01 800.5h14.98"/>
<circle cx="185.2" cy="770.51" r="2.35"/>
<circle cx="182.16" cy="795.39" r="2.35"/>
<circle cx="185.2" cy="795.39" r="2.35"/>
<circle cx="185.2" cy="803.35" r="2.35"/>
<circle cx="188.08" cy="803.35" r="2.35"/>
<circle cx="179.62" cy="811.81" r="2.35"/>
<circle cx="182.5" cy="811.81" r="2.35"/>
<circle cx="185.2" cy="811.81" r="2.35"/>
<circle cx="188.08" cy="811.81" r="2.35"/>
<circle cx="190.96" cy="811.81" r="2.35"/>
<path d="M207.84 743.56h4.49v4.49h-4.49zM203.94 768.27h4.49v4.49h-4.49zM200.22 785.02h4.49v4.49h-4.49zM203.27 785.02h4.49v4.49h-4.49zM211.73 785.02h4.49v4.49h-4.49zM200.22 809.57h4.49v4.49h-4.49zM203.1 809.57h4.49v4.49h-4.49zM206.15 809.57h4.49v4.49h-4.49zM209.02 809.57h4.49v4.49h-4.49zM211.73 809.57h4.49v4.49h-4.49z"/>
<path d="M231.24 793.38l2.57 4.28h-5.14zM229.55 801l2.57 4.28h-5.14zM232.93 801l2.57 4.28h-5.14zM225.66 809.46l2.57 4.28h-5.14zM228.36 809.46l2.57 4.28h-5.14zM231.24 809.46l2.57 4.28h-5.14zM234.12 809.46l2.57 4.28h-5.14zM236.83 809.46l2.57 4.28h-5.14zM227.01 809.12l2.57 4.28h-5.14zM235.47 809.12l2.57 4.28h-5.14z"/>
<path d="M251.89 788.95l2.57 -4.28h-5.14zM249.01 796.9l2.57 -4.28h-5.14zM252.91 796.9l2.57 -4.28h-5.14zM256.63 796.9l2.57 -4.28h-5.14zM260.01 796.9l2.57 -4.28h-5.14zM249.01 814.17l2.57 -4.28h-5.14zM256.29 814.17l2.57 -4.28h-5.14zM259.68 814.17l2.57 -4.28h-5.14z"/>
<path class="br" d="M231.5 778.47V773.5H254.5V778.47"/>
<text class="st" x="242.24" y="774.6" text-anchor="middle">*</text>
</g>
<g>
<path class="ax" d="M332.5 727.9V827.5H431.02"/>
<path class="ax" d="M328.5 728.5H332.5M328.5 745.5H332.5M328.5 761.5H332.5M328.5 778.5H332.5M328.5 794.5H332.5M328.5 811.5H332.5M328.5 827.5H332.5M347.5 827.5V832.2M370.5 827.5V832.2M392.5 827.5V832.2M415.5 827.5V832.2"/>
<path class="dot" d="M333.5 811.5H430.02"/>
<text class="tk" x="326.9" y="730.99" text-anchor="end" style="font-size:6.9px">5</text>
<text class="tk" x="326.9" y="747.58" text-anchor="end" style="font-size:6.9px">4</text>
<text class="tk" x="326.9" y="763.99" text-anchor="end" style="font-size:6.9px">3</text>
<text class="tk" x="326.9" y="780.58" text-anchor="end" style="font-size:6.9px">2</text>
<text class="tk" x="326.9" y="797" text-anchor="end" style="font-size:6.9px">1</text>
<text class="tk" x="326.9" y="813.58" text-anchor="end" style="font-size:6.9px">0</text>
<text class="tk" x="326.9" y="830" text-anchor="end" style="font-size:6.9px">-1</text>
<text class="tt" x="382.01" y="714.04" text-anchor="middle" style="font-size:9.3px">Eosinophils</text>
<text class="yl" transform="translate(304.79 778.02) rotate(-90)" text-anchor="middle" style="font-size:8.3px"><tspan x="0" y="0">Eosinophils in BAL fluid</tspan><tspan x="0" y="9.9">(% cells)</tspan></text>
<text class="xl" transform="translate(349.44 839.1) rotate(-45)" text-anchor="end" style="font-size:7.5px">Liq.feed/Glass.syringe</text>
<text class="xl" transform="translate(372.28 839.1) rotate(-45)" text-anchor="end" style="font-size:7.5px">Liq.feed/Disp.syringe</text>
<text class="xl" transform="translate(395.13 839.1) rotate(-45)" text-anchor="end" style="font-size:7.5px">Feed.pellet/Glass.syringe</text>
<text class="xl" transform="translate(417.98 839.1) rotate(-45)" text-anchor="end" style="font-size:7.5px">Feed.pellet/Disp.syringe</text>
<path class="eb" d="M347.5 774.5V819.5M343.76 774.5h7.49M343.76 819.5h7.49M370.5 773.5V816.5M366.76 773.5h7.49M366.76 816.5h7.49M392.5 798.5V815.5M388.76 798.5h7.49M388.76 815.5h7.49M415.5 796.5V808.5M411.76 796.5h7.49M411.76 808.5h7.49"/>
<path class="mn" d="M340.01 797.5h14.98M363.01 794.5h14.98M385.01 806.5h14.98M408.01 802.5h14.98"/>
<circle cx="347.24" cy="745.13" r="2.35"/>
<circle cx="347.24" cy="770.01" r="2.35"/>
<circle cx="347.24" cy="794.55" r="2.35"/>
<circle cx="347.24" cy="802.67" r="2.35"/>
<circle cx="350.11" cy="802.67" r="2.35"/>
<circle cx="341.65" cy="811.14" r="2.35"/>
<circle cx="344.36" cy="811.14" r="2.35"/>
<circle cx="347.24" cy="811.14" r="2.35"/>
<circle cx="350.11" cy="811.14" r="2.35"/>
<circle cx="352.82" cy="811.14" r="2.35"/>
<path d="M367.84 742.88h4.49v4.49h-4.49zM367.84 775.88h4.49v4.49h-4.49zM362.25 792.3h4.49v4.49h-4.49zM367.84 792.3h4.49v4.49h-4.49zM362.25 800.43h4.49v4.49h-4.49zM373.42 800.43h4.49v4.49h-4.49zM362.25 808.89h4.49v4.49h-4.49zM367.84 808.89h4.49v4.49h-4.49zM373.42 808.89h4.49v4.49h-4.49z"/>
<path d="M392.93 784.24l2.57 4.28h-5.14zM391.58 800.32l2.57 4.28h-5.14zM394.63 800.32l2.57 4.28h-5.14zM387.35 808.78l2.57 4.28h-5.14zM390.06 808.78l2.57 4.28h-5.14zM392.93 808.78l2.57 4.28h-5.14zM395.81 808.78l2.57 4.28h-5.14zM398.52 808.78l2.57 4.28h-5.14zM388.7 808.44l2.57 4.28h-5.14zM397.17 808.44l2.57 4.28h-5.14z"/>
<path d="M410.71 796.56l2.57 -4.28h-5.14zM416.29 796.56l2.57 -4.28h-5.14zM410.71 805.03l2.57 -4.28h-5.14zM416.29 805.03l2.57 -4.28h-5.14zM421.71 805.03l2.57 -4.28h-5.14zM410.71 813.49l2.57 -4.28h-5.14zM416.29 813.49l2.57 -4.28h-5.14zM421.71 813.49l2.57 -4.28h-5.14z"/>
</g>
<g>
<path class="ax" d="M494.5 725.9V826.5H594.75"/>
<path class="ax" d="M490.5 726.5H494.5M490.5 746.5H494.5M490.5 766.5H494.5M490.5 786.5H494.5M490.5 806.5H494.5M490.5 826.5H494.5M509.5 826.5V831.2M532.5 826.5V831.2M555.5 826.5V831.2M578.5 826.5V831.2"/>
<path class="dot" d="M495.5 806.5H593.75"/>
<text class="tk" x="488.9" y="729.3" text-anchor="end" style="font-size:6.9px">40</text>
<text class="tk" x="488.9" y="749.27" text-anchor="end" style="font-size:6.9px">30</text>
<text class="tk" x="488.9" y="768.9" text-anchor="end" style="font-size:6.9px">20</text>
<text class="tk" x="488.9" y="788.87" text-anchor="end" style="font-size:6.9px">10</text>
<text class="tk" x="488.9" y="808.85" text-anchor="end" style="font-size:6.9px">0</text>
<text class="tk" x="488.9" y="828.65" text-anchor="end" style="font-size:6.9px">-10</text>
<text class="tt" x="544.56" y="712.85" text-anchor="middle" style="font-size:9.5px">Epithelial cells</text>
<text class="yl" transform="translate(462.94 776.67) rotate(-90)" text-anchor="middle" style="font-size:8.3px"><tspan x="0" y="0">Epithelial cells in BAL fluid</tspan><tspan x="0" y="9.9">(% cells)</tspan></text>
<text class="xl" transform="translate(511.82 838.1) rotate(-45)" text-anchor="end" style="font-size:7.5px">Liq.feed/Glass.syringe</text>
<text class="xl" transform="translate(534.67 838.1) rotate(-45)" text-anchor="end" style="font-size:7.5px">Liq.feed/Disp.syringe</text>
<text class="xl" transform="translate(557.86 838.1) rotate(-45)" text-anchor="end" style="font-size:7.5px">Feed.pellet/Glass.syringe</text>
<text class="xl" transform="translate(580.7 838.1) rotate(-45)" text-anchor="end" style="font-size:7.5px">Feed.pellet/Disp.syringe</text>
<path class="eb" d="M509.5 794.5V806.5M505.76 794.5h7.49M505.76 806.5h7.49M532.5 797.5V805.5M528.76 797.5h7.49M528.76 805.5h7.49M555.5 779.5V816.5M551.76 779.5h7.49M551.76 816.5h7.49M578.5 795.5V803.5M574.76 795.5h7.49M574.76 803.5h7.49"/>
<path class="mn" d="M502.01 800.5h14.98M525.01 801.5h14.98M548.01 797.5h14.98M571.01 799.5h14.98"/>
<circle cx="509.96" cy="785.75" r="2.35"/>
<circle cx="509.96" cy="797.93" r="2.35"/>
<circle cx="504.54" cy="801.32" r="2.35"/>
<circle cx="507.93" cy="801.32" r="2.35"/>
<circle cx="512.16" cy="800.98" r="2.35"/>
<circle cx="515.54" cy="801.32" r="2.35"/>
<circle cx="506.23" cy="802.67" r="2.35"/>
<circle cx="509.96" cy="803.35" r="2.35"/>
<circle cx="512.16" cy="803.86" r="2.35"/>
<circle cx="507.93" cy="805.55" r="2.35"/>
<path d="M529.38 791.12h4.49v4.49h-4.49zM529.38 796.53h4.49v4.49h-4.49zM525.14 799.92h4.49v4.49h-4.49zM531.91 799.07h4.49v4.49h-4.49zM536.15 799.07h4.49v4.49h-4.49zM526.84 801.1h4.49v4.49h-4.49zM533.61 801.61h4.49v4.49h-4.49zM526.84 804.15h4.49v4.49h-4.49zM530.22 803.3h4.49v4.49h-4.49zM533.61 803.3h4.49v4.49h-4.49z"/>
<path d="M555.66 744.47l2.57 4.28h-5.14zM554.47 797.27l2.57 4.28h-5.14zM549.9 800.32l2.57 4.28h-5.14zM556.16 800.66l2.57 4.28h-5.14zM561.24 800.15l2.57 4.28h-5.14zM551.93 802.86l2.57 4.28h-5.14zM555.66 804.04l2.57 4.28h-5.14zM559.21 804.04l2.57 4.28h-5.14zM552.78 804.55l2.57 4.28h-5.14zM558.7 804.55l2.57 4.28h-5.14z"/>
<path d="M584.43 796.9l2.57 -4.28h-5.14zM581.21 797.75l2.57 -4.28h-5.14zM576.14 798.6l2.57 -4.28h-5.14zM578.5 799.95l2.57 -4.28h-5.14zM573.43 800.29l2.57 -4.28h-5.14zM582.4 801.13l2.57 -4.28h-5.14zM581.21 805.03l2.57 -4.28h-5.14zM578.5 805.37l2.57 -4.28h-5.14zM575.63 808.75l2.57 -4.28h-5.14z"/>
</g>
</svg>
</body></html>
